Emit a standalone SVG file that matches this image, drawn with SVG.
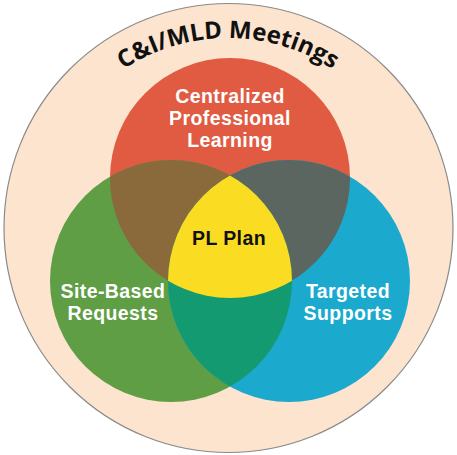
<svg xmlns="http://www.w3.org/2000/svg" xmlns:xlink="http://www.w3.org/1999/xlink" width="457" height="455" viewBox="0 0 457 455">
  <defs>
    <clipPath id="clipRed"><circle cx="230" cy="178" r="120"/></clipPath>
    <clipPath id="clipGreen"><circle cx="171" cy="281" r="121"/></clipPath>
    <clipPath id="clipBlue"><circle cx="289" cy="281" r="121"/></clipPath>
    <path id="titleArc" d="M 38 228 A 190 190 0 0 1 418 228"/>
  </defs>
  <style>
    .lbl { font-family: "Liberation Sans", Arial, sans-serif; font-weight: 700; font-size: 19.5px; letter-spacing: 0.4px; fill: #ffffff; text-anchor: middle; }
    .dark { fill: #111111; }
    .title { font-family: "Open Sans", "Liberation Sans", sans-serif; font-weight: 700; font-size: 24px; fill: #111111; }
  </style>
  <rect width="457" height="455" fill="#ffffff"/>
  <g id="outer">
    <circle cx="228.5" cy="228" r="224.5" fill="#FCE4CF" stroke="#8a8a8a" stroke-width="1.2"/>
    <text class="title"><textPath xlink:href="#titleArc" href="#titleArc" startOffset="50%" text-anchor="middle">C&amp;I/MLD Meetings</textPath></text>
  </g>
  <g id="red-circle">
    <circle cx="230" cy="178" r="120" fill="#E05B42"/>
  </g>
  <g id="green-circle">
    <circle cx="171" cy="281" r="121" fill="#5F9E45"/>
  </g>
  <g id="blue-circle">
    <circle cx="289" cy="281" r="121" fill="#1BAACE"/>
  </g>
  <g id="overlaps">
    <circle cx="230" cy="178" r="120" fill="#8A6A3B" clip-path="url(#clipGreen)"/>
    <circle cx="230" cy="178" r="120" fill="#5B6661" clip-path="url(#clipBlue)"/>
    <circle cx="171" cy="281" r="121" fill="#149A70" clip-path="url(#clipBlue)"/>
    <g clip-path="url(#clipGreen)">
      <circle cx="230" cy="178" r="120" fill="#FADC22" clip-path="url(#clipBlue)"/>
    </g>
  </g>
  <g id="centralized">
    <text class="lbl" x="230" y="103">Centralized</text>
    <text class="lbl" x="230" y="125">Professional</text>
    <text class="lbl" x="230" y="147">Learning</text>
  </g>
  <g id="pl-plan">
    <text class="lbl dark" x="229" y="245">PL Plan</text>
  </g>
  <g id="site-based">
    <text class="lbl" x="113" y="298">Site-Based</text>
    <text class="lbl" x="113" y="320">Requests</text>
  </g>
  <g id="targeted">
    <text class="lbl" x="348" y="298">Targeted</text>
    <text class="lbl" x="348" y="320">Supports</text>
  </g>
</svg>
